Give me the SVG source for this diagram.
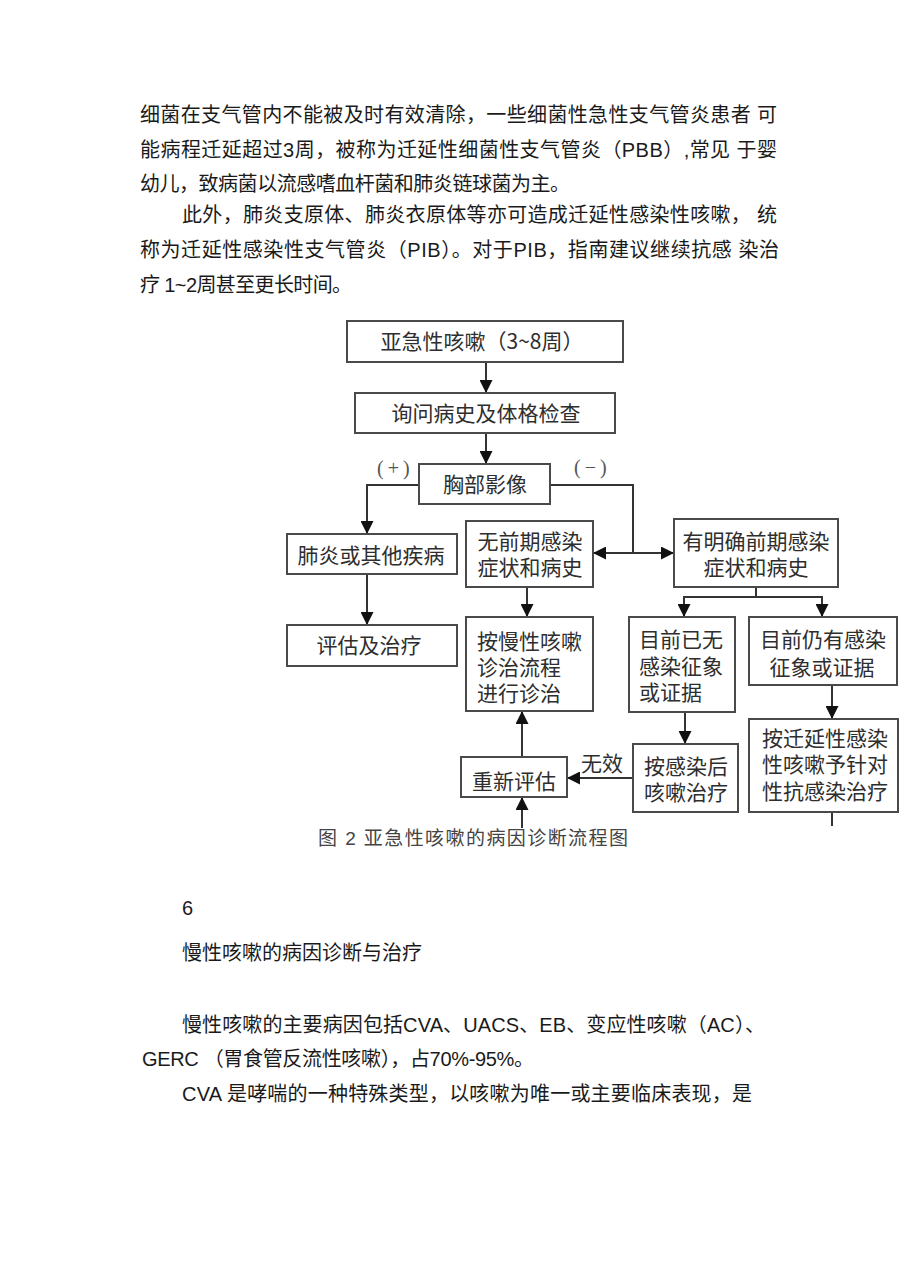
<svg xmlns="http://www.w3.org/2000/svg" width="920" height="1276" viewBox="0 0 920 1276">
<style>
.body{font-family:"Liberation Sans","Noto Sans CJK SC",sans-serif;font-size:20px;fill:#1a1a1a}
.box{fill:#fff;stroke:#4a4a4a;stroke-width:2}
.bt{font-family:"Noto Sans CJK SC",sans-serif;font-size:21px;fill:#2e2e2e}
.c{text-anchor:middle}
.ln{fill:none;stroke:#333;stroke-width:2}
.lbl{font-family:"Liberation Serif","Noto Sans CJK SC",serif;font-size:20px;fill:#555;letter-spacing:4px}
.cap{font-family:"Liberation Sans","Noto Sans CJK SC",sans-serif;font-size:19px;fill:#444}
</style>
<defs>
<marker id="ah" viewBox="0 0 12 12" refX="12" refY="6" markerWidth="13" markerHeight="13" markerUnits="userSpaceOnUse" orient="auto-start-reverse">
<path d="M0,0 L12,6 L0,12 z" fill="#111"/>
</marker>
</defs>
<rect width="920" height="1276" fill="#fff"/>

<g id="body-top">
<text class="body" x="140" y="122" textLength="637" lengthAdjust="spacing">细菌在支气管内不能被及时有效清除，一些细菌性急性支气管炎患者 可</text>
<text class="body" x="140" y="157" textLength="637" lengthAdjust="spacing">能病程迁延超过3周，被称为迁延性细菌性支气管炎（PBB）,常见 于婴</text>
<text class="body" x="140" y="191" textLength="430" lengthAdjust="spacing">幼儿，致病菌以流感嗜血杆菌和肺炎链球菌为主。</text>
<text class="body" x="182" y="222" textLength="595" lengthAdjust="spacing">此外，肺炎支原体、肺炎衣原体等亦可造成迁延性感染性咳嗽， 统</text>
<text class="body" x="140" y="257" textLength="639" lengthAdjust="spacing">称为迁延性感染性支气管炎（PIB）。对于PIB，指南建议继续抗感 染治</text>
<text class="body" x="140" y="292" textLength="212" lengthAdjust="spacing">疗 1~2周甚至更长时间。</text>
</g>

<g id="connectors">
<line class="ln" x1="486" y1="362" x2="486" y2="393" marker-end="url(#ah)"/>
<line class="ln" x1="486" y1="433" x2="486" y2="464" marker-end="url(#ah)"/>
<path class="ln" d="M419,485 H367 V534" marker-end="url(#ah)"/>
<path class="ln" d="M550,485 H633 V553"/>
<line class="ln" x1="593" y1="553" x2="674" y2="553" marker-start="url(#ah)" marker-end="url(#ah)"/>
<line class="ln" x1="367" y1="574" x2="367" y2="625" marker-end="url(#ah)"/>
<line class="ln" x1="527" y1="587" x2="527" y2="617" marker-end="url(#ah)"/>
<line class="ln" x1="756" y1="587" x2="756" y2="597"/>
<path class="ln" d="M684,617 V597 H822 V617"/>
<line class="ln" x1="684" y1="605" x2="684" y2="617" marker-end="url(#ah)"/>
<line class="ln" x1="822" y1="605" x2="822" y2="617" marker-end="url(#ah)"/>
<line class="ln" x1="685" y1="712" x2="685" y2="744" marker-end="url(#ah)"/>
<line class="ln" x1="832" y1="685" x2="832" y2="719" marker-end="url(#ah)"/>
<line class="ln" x1="832" y1="812" x2="832" y2="826"/>
<line class="ln" x1="633" y1="778" x2="567" y2="778" marker-end="url(#ah)"/>
<line class="ln" x1="522" y1="757" x2="522" y2="711" marker-end="url(#ah)"/>
<line class="ln" x1="522" y1="828" x2="522" y2="797" marker-end="url(#ah)"/>
<text class="lbl" x="377" y="475">(+)</text>
<text class="lbl" x="574" y="474">(−)</text>
<text class="bt c" x="602" y="771">无效</text>
</g>

<g id="n1"><rect class="box" x="347" y="321" width="276" height="41"/><text class="bt c" x="482" y="349">亚急性咳嗽（3~8周）</text></g>
<g id="n2"><rect class="box" x="355" y="393" width="260" height="40"/><text class="bt c" x="486" y="421">询问病史及体格检查</text></g>
<g id="n3"><rect class="box" x="419" y="464" width="131" height="40"/><text class="bt c" x="485" y="492">胸部影像</text></g>
<g id="n4"><rect class="box" x="287" y="534" width="170" height="40"/><text class="bt c" x="371" y="563">肺炎或其他疾病</text></g>
<g id="n5"><rect class="box" x="287" y="625" width="170" height="41"/><text class="bt c" x="369" y="653">评估及治疗</text></g>
<g id="n6"><rect class="box" x="466" y="521" width="127" height="66"/><text class="bt c" x="530" y="549">无前期感染</text><text class="bt c" x="530" y="575">症状和病史</text></g>
<g id="n7"><rect class="box" x="674" y="519" width="164" height="68"/><text class="bt c" x="756" y="549">有明确前期感染</text><text class="bt c" x="756" y="575">症状和病史</text></g>
<g id="n8"><rect class="box" x="466" y="617" width="127" height="94"/><text class="bt" x="477" y="649">按慢性咳嗽</text><text class="bt" x="477" y="675">诊治流程</text><text class="bt" x="477" y="701">进行诊治</text></g>
<g id="n9"><rect class="box" x="629" y="617" width="106" height="95"/><text class="bt" x="639" y="647">目前已无</text><text class="bt" x="639" y="674">感染征象</text><text class="bt" x="639" y="700">或证据</text></g>
<g id="n10"><rect class="box" x="749" y="617" width="148" height="68"/><text class="bt c" x="823" y="647">目前仍有感染</text><text class="bt c" x="822" y="675">征象或证据</text></g>
<g id="n11"><rect class="box" x="749" y="719" width="149" height="93"/><text class="bt c" x="825" y="746">按迁延性感染</text><text class="bt c" x="825" y="772">性咳嗽予针对</text><text class="bt c" x="825" y="799">性抗感染治疗</text></g>
<g id="n12"><rect class="box" x="633" y="744" width="105" height="68"/><text class="bt c" x="686" y="774">按感染后</text><text class="bt c" x="686" y="800">咳嗽治疗</text></g>
<g id="n13"><rect class="box" x="461" y="757" width="106" height="40"/><text class="bt c" x="514" y="789">重新评估</text></g>

<text class="cap" x="318" y="845" textLength="310" lengthAdjust="spacing">图 2 亚急性咳嗽的病因诊断流程图</text>

<g id="body-bottom">
<text class="body" x="182" y="915">6</text>
<text class="body" x="182" y="960" textLength="240" lengthAdjust="spacing">慢性咳嗽的病因诊断与治疗</text>
<text class="body" x="182" y="1032" textLength="583" lengthAdjust="spacing">慢性咳嗽的主要病因包括CVA、UACS、EB、变应性咳嗽（AC）、</text>
<text class="body" x="142" y="1066" textLength="392" lengthAdjust="spacing">GERC （胃食管反流性咳嗽），占70%-95%。</text>
<text class="body" x="182" y="1101" textLength="570" lengthAdjust="spacing">CVA 是哮喘的一种特殊类型，以咳嗽为唯一或主要临床表现，是</text>
</g>
</svg>
